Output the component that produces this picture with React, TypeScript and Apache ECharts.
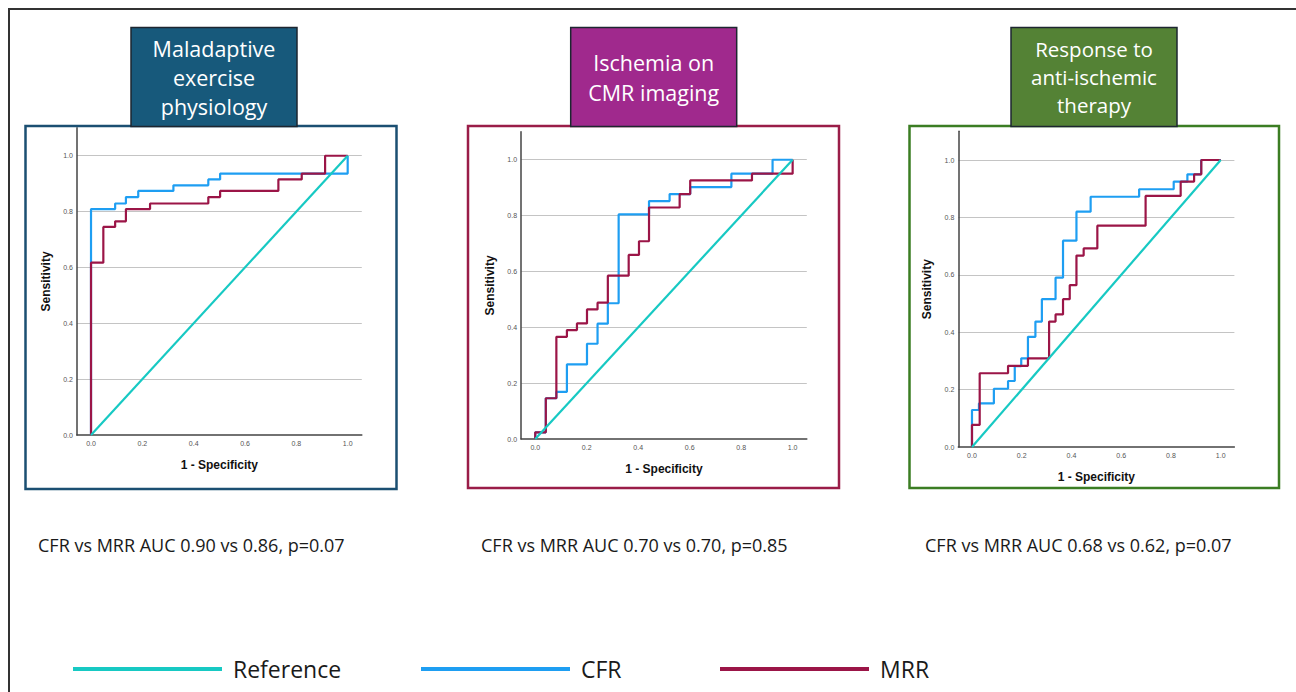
import React, { useEffect, useRef } from "react";
import * as echarts from "echarts";

// ---------- data ----------
const xTickValues = [0, 0.2, 0.4, 0.6, 0.8, 1.0];
const panelTitles = [
  "Maladaptive\nexercise\nphysiology",
  "Ischemia on\nCMR imaging",
  "Response to\nanti-ischemic\ntherapy",
];
const aucTexts = [
  "CFR vs MRR AUC 0.90 vs 0.86, p=0.07",
  "CFR vs MRR AUC 0.70 vs 0.70, p=0.85",
  "CFR vs MRR AUC 0.68 vs 0.62, p=0.07",
];
const legendNames = ["Reference", "CFR", "MRR"];
const xAxisTitle = "1 - Specificity";
const yAxisTitle = "Sensitivity";

const refLine = [[0, 0], [1, 1]];

const p1Cfr = [
  [0, 0], [0, 0.809], [0.094, 0.809], [0.094, 0.829], [0.136, 0.829], [0.136, 0.852],
  [0.184, 0.852], [0.184, 0.874], [0.321, 0.874], [0.321, 0.894], [0.457, 0.894],
  [0.457, 0.915], [0.503, 0.915], [0.503, 0.936], [1.0, 0.936], [1.0, 1.0],
];
const p1Mrr = [
  [0, 0], [0, 0.617], [0.048, 0.617], [0.048, 0.745], [0.094, 0.745], [0.094, 0.765],
  [0.136, 0.765], [0.136, 0.809], [0.23, 0.809], [0.23, 0.829], [0.457, 0.829],
  [0.457, 0.852], [0.503, 0.852], [0.503, 0.874], [0.73, 0.874], [0.73, 0.915],
  [0.821, 0.915], [0.821, 0.936], [0.912, 0.936], [0.912, 1.0], [1.0, 1.0],
];

const p2Cfr = [
  [0, 0], [0, 0.024], [0.041, 0.024], [0.041, 0.146], [0.082, 0.146], [0.082, 0.169],
  [0.123, 0.169], [0.123, 0.267], [0.201, 0.267], [0.201, 0.341], [0.242, 0.341],
  [0.242, 0.413], [0.282, 0.413], [0.282, 0.486], [0.324, 0.486], [0.324, 0.804],
  [0.442, 0.804], [0.442, 0.852], [0.522, 0.852], [0.522, 0.877], [0.602, 0.877],
  [0.602, 0.902], [0.762, 0.902], [0.762, 0.95], [0.922, 0.95], [0.922, 1.0], [1.0, 1.0],
];
const p2Mrr = [
  [0, 0], [0, 0.024], [0.041, 0.024], [0.041, 0.146], [0.082, 0.146], [0.082, 0.366],
  [0.123, 0.366], [0.123, 0.39], [0.162, 0.39], [0.162, 0.414], [0.201, 0.414],
  [0.201, 0.464], [0.242, 0.464], [0.242, 0.488], [0.282, 0.488], [0.282, 0.585],
  [0.363, 0.585], [0.363, 0.659], [0.403, 0.659], [0.403, 0.708], [0.442, 0.708],
  [0.442, 0.829], [0.561, 0.829], [0.561, 0.877], [0.602, 0.877], [0.602, 0.926],
  [0.842, 0.926], [0.842, 0.95], [1.0, 0.95], [1.0, 1.0],
];

const p3Cfr = [
  [0, 0], [0, 0.129], [0.028, 0.129], [0.028, 0.152], [0.088, 0.152], [0.088, 0.203],
  [0.145, 0.203], [0.145, 0.23], [0.172, 0.23], [0.172, 0.282], [0.198, 0.282],
  [0.198, 0.309], [0.225, 0.309], [0.225, 0.384], [0.255, 0.384], [0.255, 0.437],
  [0.281, 0.437], [0.281, 0.515], [0.336, 0.515], [0.336, 0.59], [0.366, 0.59],
  [0.366, 0.719], [0.42, 0.719], [0.42, 0.82], [0.477, 0.82], [0.477, 0.872],
  [0.672, 0.872], [0.672, 0.898], [0.811, 0.898], [0.811, 0.925], [0.866, 0.925],
  [0.866, 0.95], [0.921, 0.95], [0.921, 1.0], [1.0, 1.0],
];
const p3Mrr = [
  [0, 0], [0, 0.077], [0.031, 0.077], [0.031, 0.257], [0.145, 0.257], [0.145, 0.283],
  [0.225, 0.283], [0.225, 0.309], [0.31, 0.309], [0.31, 0.437], [0.336, 0.437],
  [0.336, 0.462], [0.366, 0.462], [0.366, 0.515], [0.393, 0.515], [0.393, 0.564],
  [0.42, 0.564], [0.42, 0.667], [0.449, 0.667], [0.449, 0.692], [0.504, 0.692],
  [0.504, 0.771], [0.698, 0.771], [0.698, 0.875], [0.839, 0.875], [0.839, 0.925],
  [0.893, 0.925], [0.893, 0.95], [0.922, 0.95], [0.922, 1.0], [1.0, 1.0],
];

const cfrCurves = [p1Cfr, p2Cfr, p3Cfr];
const mrrCurves = [p1Mrr, p2Mrr, p3Mrr];

// ---------- styling / layout ----------
const COLORS = { ref: "#17C9C3", cfr: "#1E9EF2", mrr: "#9B1547" };
const panelBorder = ["#1B4F72", "#9A1D48", "#3B7D23"];
const titleFill = ["#17597B", "#A0298D", "#548235"];
const grids = [
  { left: 76.9, top: 127.8, width: 284.9, height: 307.2 },
  { left: 521.1, top: 131.8, width: 285.7, height: 307.2 },
  { left: 958.3, top: 131.3, width: 276.1, height: 315.7 },
];
const panelRects = [
  { x: 25.5, y: 126, w: 371, h: 363 },
  { x: 468, y: 126, w: 371, h: 362 },
  { x: 909.5, y: 126, w: 369.5, h: 362 },
];
const titleRects = [
  { x: 131, y: 27.5, w: 166, h: 99, lh: 29, fs: 21.5 },
  { x: 570.7, y: 27.5, w: 166, h: 99, lh: 30, fs: 21.5 },
  { x: 1011, y: 27.5, w: 166, h: 99, lh: 28, fs: 20.5 },
];
const aucX = [38, 481, 925];
const legendX = [73, 421, 720];

export default function App() {
  const ref = useRef<HTMLDivElement>(null);
  useEffect(() => {
    if (!ref.current) return;
    const chart = echarts.init(ref.current, null, { renderer: "svg" });

    const xAxis = grids.map((_, i) => ({
      type: "value",
      gridIndex: i,
      min: -0.055,
      max: 1.055,
      axisLine: { show: true, onZero: false, lineStyle: { color: "#444", width: 1.5 } },
      axisTick: { show: false },
      splitLine: { show: false },
      axisLabel: {
        customValues: xTickValues,
        formatter: (v: number) => v.toFixed(1),
        fontSize: 7,
        color: "#555",
        fontFamily: "Liberation Sans",
        margin: 5,
      },
      name: xAxisTitle,
      nameLocation: "middle",
      nameGap: 24,
      nameTextStyle: { fontSize: 12, fontWeight: "bold", color: "#111", fontFamily: "Liberation Sans" },
    }));
    const yAxis = grids.map((_, i) => ({
      type: "value",
      gridIndex: i,
      min: 0,
      max: 1.1,
      interval: 0.2,
      axisLine: { show: true, onZero: false, lineStyle: { color: "#444", width: 1.5 } },
      axisTick: { show: false },
      splitLine: { show: true, showMinLine: false, showMaxLine: false, lineStyle: { color: "#c4c4c4", width: 1 } },
      axisLabel: {
        formatter: (v: number) => v.toFixed(1),
        showMaxLabel: false,
        fontSize: 7,
        color: "#555",
        fontFamily: "Liberation Sans",
        margin: 4,
      },
      name: yAxisTitle,
      nameLocation: "middle",
      nameRotate: 90,
      nameGap: 25,
      nameTextStyle: { fontSize: 12, fontWeight: "bold", color: "#111", fontFamily: "Liberation Sans" },
    }));

    const series: any[] = [];
    grids.forEach((_, i) => {
      series.push({
        type: "line", name: legendNames[1], xAxisIndex: i, yAxisIndex: i,
        data: cfrCurves[i], showSymbol: false, z: 2,
        lineStyle: { color: COLORS.cfr, width: 2.2 }, itemStyle: { color: COLORS.cfr },
      });
      series.push({
        type: "line", name: legendNames[2], xAxisIndex: i, yAxisIndex: i,
        data: mrrCurves[i], showSymbol: false, z: 3,
        lineStyle: { color: COLORS.mrr, width: 2.2 }, itemStyle: { color: COLORS.mrr },
      });
      series.push({
        type: "line", name: legendNames[0], xAxisIndex: i, yAxisIndex: i,
        data: refLine, showSymbol: false, z: 4,
        lineStyle: { color: COLORS.ref, width: 2.2 }, itemStyle: { color: COLORS.ref },
      });
    });

    const graphic: any[] = [];
    graphic.push({
      type: "rect", shape: { x: 9, y: 9, width: 1400, height: 800 },
      style: { fill: "none", stroke: "#333", lineWidth: 2 }, z: 1,
    });
    panelRects.forEach((p, i) => {
      graphic.push({
        type: "rect", shape: { x: p.x, y: p.y, width: p.w, height: p.h },
        style: { fill: "none", stroke: panelBorder[i], lineWidth: 2.5 }, z: 1,
      });
    });
    titleRects.forEach((t, i) => {
      graphic.push({
        type: "rect", shape: { x: t.x, y: t.y, width: t.w, height: t.h },
        style: { fill: titleFill[i], stroke: "#1d2630", lineWidth: 1.5 }, z: 5,
      });
      graphic.push({
        type: "text", x: t.x + t.w / 2, y: t.y + t.h / 2, z: 6,
        style: {
          text: panelTitles[i], fill: "#ffffff", fontSize: t.fs, fontFamily: "Open Sans",
          lineHeight: t.lh, align: "center", verticalAlign: "middle",
        },
      });
    });
    aucTexts.forEach((s, i) => {
      graphic.push({
        type: "text", x: aucX[i], y: 545, z: 6,
        style: { text: s, fill: "#1a1a1a", fontSize: 18, fontFamily: "Open Sans", align: "left", verticalAlign: "middle" },
      });
    });
    const legendColors = [COLORS.ref, COLORS.cfr, COLORS.mrr];
    legendNames.forEach((n, i) => {
      graphic.push({
        type: "line", shape: { x1: legendX[i], y1: 669, x2: legendX[i] + 149, y2: 669 }, z: 6,
        style: { stroke: legendColors[i], lineWidth: 4 },
      });
      graphic.push({
        type: "text", x: legendX[i] + 160, y: 669, z: 6,
        style: { text: n, fill: "#1a1a1a", fontSize: 23, fontFamily: "Open Sans", align: "left", verticalAlign: "middle" },
      });
    });

    chart.setOption({
      animation: false,
      backgroundColor: "#ffffff",
      grid: grids.map((g) => ({ ...g, containLabel: false })),
      xAxis,
      yAxis,
      series,
      graphic,
    });
    return () => chart.dispose();
  }, []);
  return (
    <div
      ref={ref}
      style={{ position: "absolute", left: 0, top: 0, width: 1296, height: 692 }}
    />
  );
}
